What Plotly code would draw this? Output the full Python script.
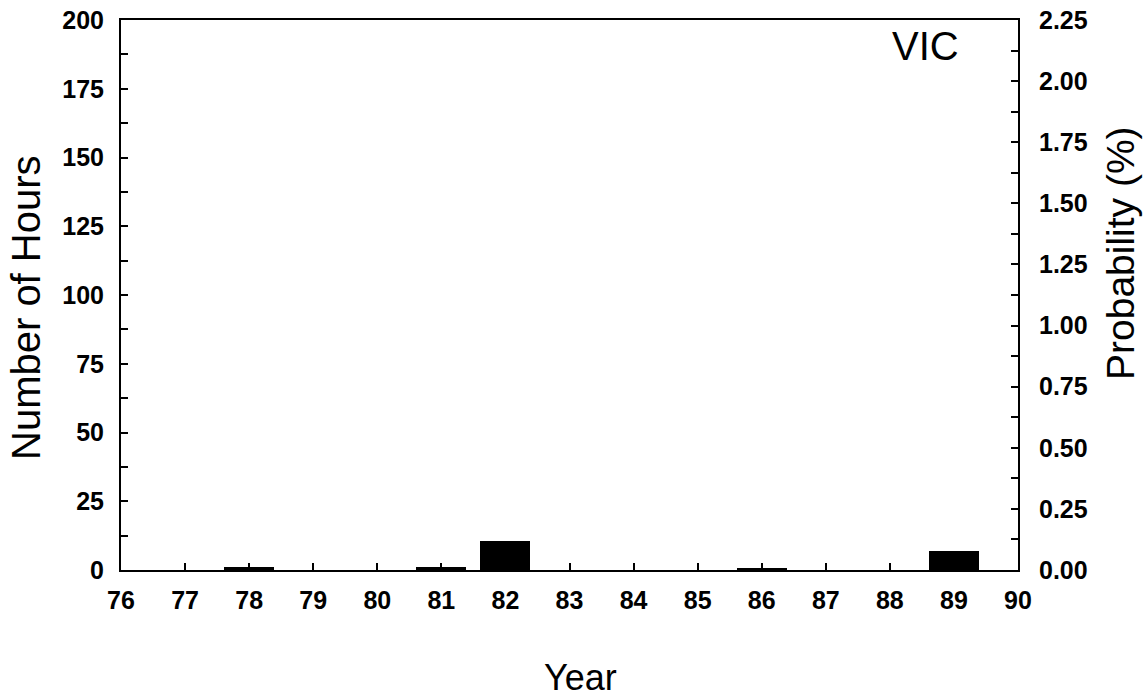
import plotly.graph_objects as go

# Annual hours per year (VIC)
years = [77, 78, 79, 80, 81, 82, 83, 84, 85, 86, 87, 88, 89]
hours = [0, 1, 0, 0, 1, 10.5, 0, 0, 0, 0.6, 0, 0, 7]

x_ticks = list(range(76, 91))
hours_ticks = [0, 25, 50, 75, 100, 125, 150, 175, 200]
prob_ticks = [0.00, 0.25, 0.50, 0.75, 1.00, 1.25, 1.50, 1.75, 2.00, 2.25]

FONT = "Liberation Sans, Arial, sans-serif"
TICK_FONT = dict(family=FONT, size=25, color="black", weight="bold")

fig = go.Figure()
fig.add_trace(go.Bar(
    x=years, y=hours, width=0.78,
    marker=dict(color="black", line=dict(width=0)),
    showlegend=False,
))
# empty trace so the probability axis is drawn
fig.add_trace(go.Scatter(x=[], y=[], yaxis="y2", showlegend=False))

axis_common = dict(
    showline=True, linecolor="black", linewidth=2,
    showgrid=False, zeroline=False, automargin=False,
    ticks="inside", tickcolor="black", tickwidth=1.5, ticklen=7,
    tickfont=TICK_FONT,
)

fig.update_layout(
    width=1147, height=698,
    margin=dict(l=121, r=129, t=20, b=128),
    plot_bgcolor="white", paper_bgcolor="white",
    bargap=0,
    xaxis=dict(
        range=[76, 90], tickvals=x_ticks, ticktext=[str(v) for v in x_ticks],
        mirror=True, ticklabelstandoff=7, **axis_common,
    ),
    yaxis=dict(
        range=[0, 200], tickvals=hours_ticks,
        minor=dict(dtick=12.5, ticks="inside", ticklen=7, tickcolor="black", tickwidth=1.5),
        ticklabelstandoff=10, **axis_common,
    ),
    yaxis2=dict(
        range=[0, 2.25], tickvals=prob_ticks,
        ticktext=[f"{v:.2f}" for v in prob_ticks],
        overlaying="y", side="right",
        minor=dict(dtick=0.125, ticks="inside", ticklen=7, tickcolor="black", tickwidth=1.5),
        ticklabelstandoff=14, **axis_common,
    ),
)

fig.add_annotation(text="Number of Hours", textangle=-90, x=26, y=308,
                   xref="paper", yref="paper", showarrow=False,
                   font=dict(family=FONT, size=40, color="black"))
fig.add_annotation(text="Probability (%)", textangle=-90, x=1121, y=253,
                   xref="paper", yref="paper", showarrow=False,
                   font=dict(family=FONT, size=39, color="black"))
fig.add_annotation(text="Year", x=580, y=677,
                   xref="paper", yref="paper", showarrow=False,
                   font=dict(family=FONT, size=36, color="black"))
fig.add_annotation(text="VIC", x=925, y=46,
                   xref="paper", yref="paper", showarrow=False,
                   font=dict(family=FONT, size=40, color="black"))

# convert pixel positions of annotations to paper coordinates
W, H = 1147, 698
L, R, T, B = 121, 129, 20, 128
pw, ph = W - L - R, H - T - B
for ann in fig.layout.annotations:
    px, py = ann.x, ann.y
    ann.x = (px - L) / pw
    ann.y = 1 - (py - T) / ph
    ann.xanchor = "center"
    ann.yanchor = "middle"

fig.write_html("out.html")
